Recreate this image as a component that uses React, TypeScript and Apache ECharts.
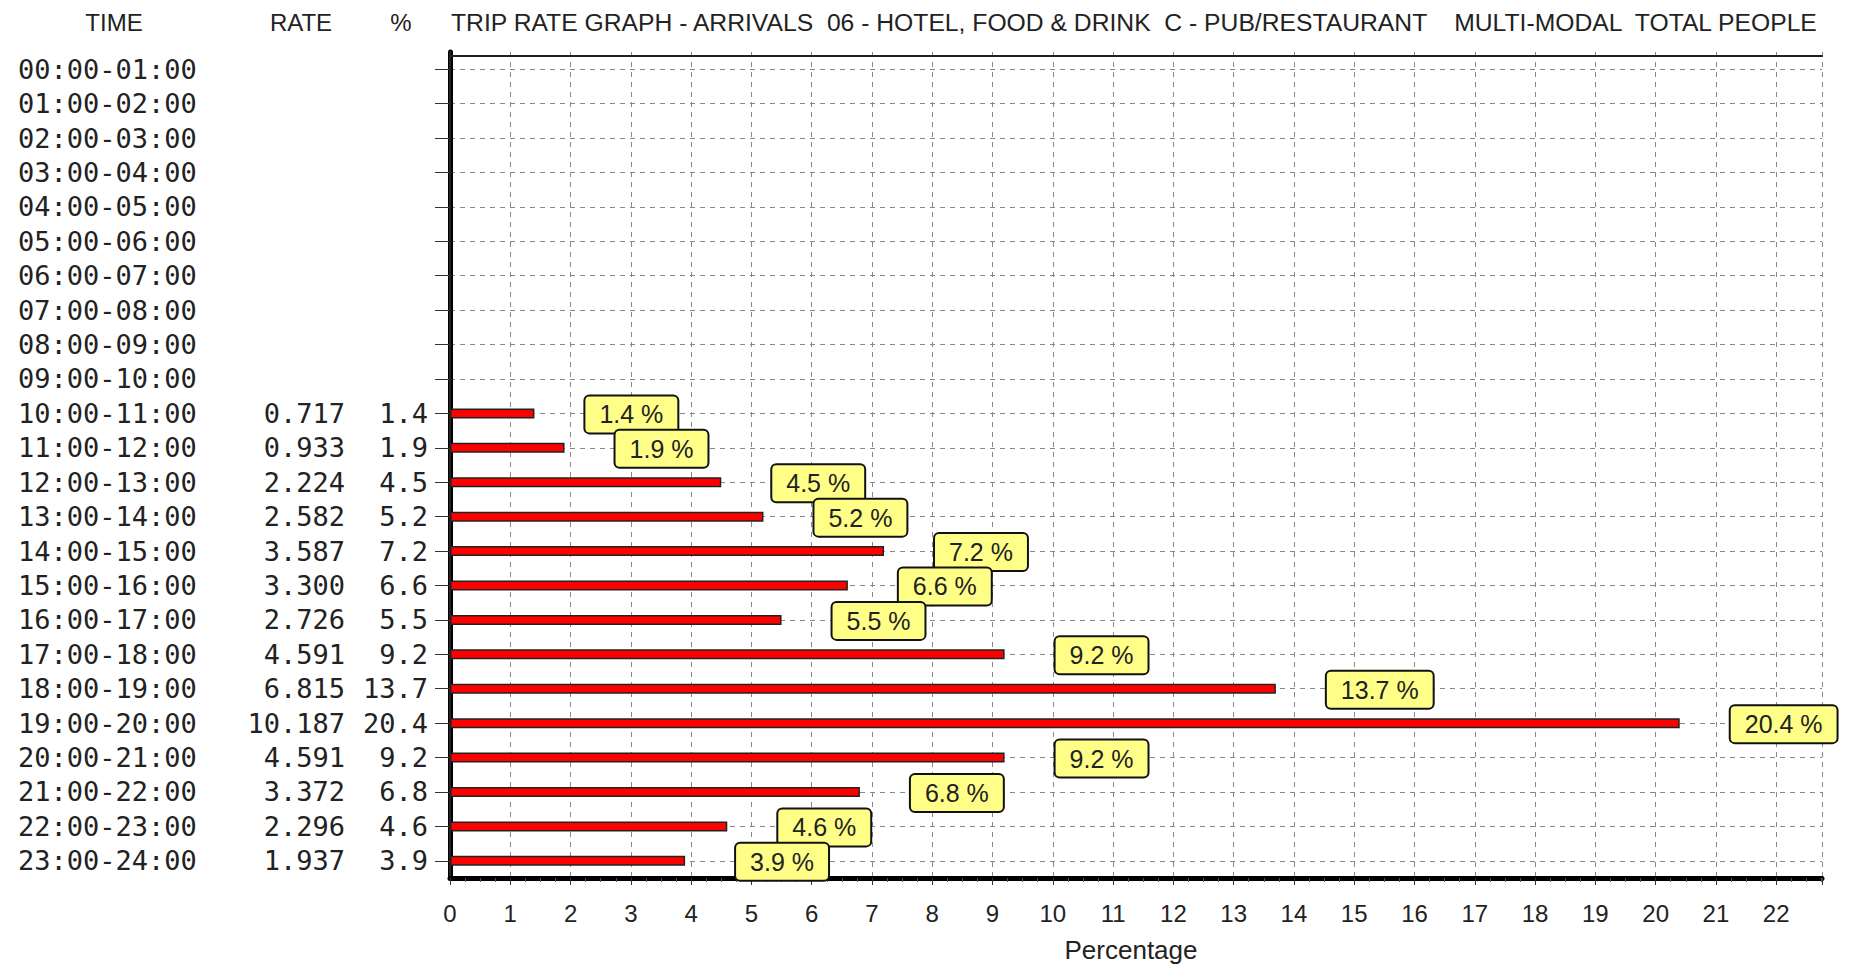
import React, { useEffect, useRef } from 'react';
import * as echarts from 'echarts';

const timeLabels = [
  '00:00-01:00', '01:00-02:00', '02:00-03:00', '03:00-04:00', '04:00-05:00', '05:00-06:00',
  '06:00-07:00', '07:00-08:00', '08:00-09:00', '09:00-10:00', '10:00-11:00', '11:00-12:00',
  '12:00-13:00', '13:00-14:00', '14:00-15:00', '15:00-16:00', '16:00-17:00', '17:00-18:00',
  '18:00-19:00', '19:00-20:00', '20:00-21:00', '21:00-22:00', '22:00-23:00', '23:00-24:00',
];
const rateValues: (string | null)[] = [
  null, null, null, null, null, null, null, null, null, null,
  '0.717', '0.933', '2.224', '2.582', '3.587', '3.300', '2.726', '4.591', '6.815', '10.187',
  '4.591', '3.372', '2.296', '1.937',
];
const percentValues: (number | null)[] = [
  null, null, null, null, null, null, null, null, null, null,
  1.4, 1.9, 4.5, 5.2, 7.2, 6.6, 5.5, 9.2, 13.7, 20.4, 9.2, 6.8, 4.6, 3.9,
];
const xMin = 0;
const xMax = 22.76;
const headerTexts = ['TIME', 'RATE', '%'];
const titleText = 'TRIP RATE GRAPH - ARRIVALS  06 - HOTEL, FOOD & DRINK  C - PUB/RESTAURANT    MULTI-MODAL  TOTAL PEOPLE';
const xAxisName = 'Percentage';

const SANS = '"Liberation Sans", Arial, sans-serif';
const MONO = '"DejaVu Sans Mono", "Liberation Mono", monospace';

export default function App() {
  const ref = useRef<HTMLDivElement>(null);
  useEffect(() => {
    if (!ref.current) return;
    const chart = echarts.init(ref.current, null, { renderer: 'svg' });
    const headerX = [114, 301, 401];
    chart.setOption({
      animation: false,
      backgroundColor: '#ffffff',
      grid: { left: 450, right: 44, top: 52, height: 836, show: false },
      graphic: [
        ...headerTexts.map((t, i) => ({
          type: 'text', x: headerX[i], y: 22,
          style: { text: t, fill: '#222', fontSize: 24, fontFamily: SANS, align: 'center', verticalAlign: 'middle' },
        })),
        {
          type: 'text', x: 451, y: 22,
          style: { text: titleText, fill: '#222', fontSize: 24.7, fontFamily: SANS, align: 'left', verticalAlign: 'middle' },
        },
      ],
      xAxis: [
        {
          type: 'value', min: xMin, max: xMax, interval: 1, position: 'bottom',
          name: xAxisName, nameLocation: 'middle', nameGap: 59,
          nameTextStyle: { fontSize: 26, fontFamily: SANS, color: '#222', padding: [0, 10, 0, 0] },
          axisLine: { show: true, lineStyle: { color: '#000', width: 5 } },
          axisTick: { show: true, length: 7, lineStyle: { color: '#333', width: 1 } },
          minorTick: { show: true, splitNumber: 4, length: 4, lineStyle: { color: '#555' } },
          axisLabel: { fontSize: 24, fontFamily: SANS, color: '#222', margin: 23, showMaxLabel: false },
          splitLine: { show: true, lineStyle: { color: '#888', type: [5, 5], width: 1 } },
        },
        {
          type: 'value', min: xMin, max: xMax, interval: 1, position: 'top', offset: -4,
          axisLine: { show: true, lineStyle: { color: '#222', width: 2 } },
          axisTick: { show: false }, axisLabel: { show: false }, splitLine: { show: false },
        },
      ],
      yAxis: [
        {
          type: 'category', data: timeLabels, inverse: true, position: 'left',
          axisLine: { show: true, lineStyle: { color: '#000', width: 5 } },
          axisTick: { show: true, alignWithLabel: true, length: 15, lineStyle: { color: '#333' } },
          splitLine: { show: true, alignWithLabel: true, lineStyle: { color: '#888', type: [5, 5], width: 1 } },
          axisLabel: {
            margin: 22,
            formatter: (value: string, idx: number) => {
              const r = rateValues[idx];
              const p = percentValues[idx];
              const rs = r === null ? ' ' : r;
              const ps = p === null ? ' ' : p.toFixed(1);
              return `{t|${value}}{r|${rs}}{p|${ps}}`;
            },
            rich: {
              t: { width: 205, align: 'left', fontFamily: MONO, fontSize: 27, color: '#222' },
              r: { width: 122, align: 'right', fontFamily: MONO, fontSize: 27, color: '#222' },
              p: { width: 83, align: 'right', fontFamily: MONO, fontSize: 27, color: '#222' },
            },
          },
        },
        {
          type: 'category', data: timeLabels, inverse: true, position: 'right',
          axisLine: { show: true, lineStyle: { color: '#222', width: 2 } },
          axisTick: { show: false }, axisLabel: { show: false }, splitLine: { show: false },
        },
      ],
      series: [
        {
          type: 'bar', xAxisIndex: 0, yAxisIndex: 0,
          data: percentValues.map((v) => (v === null ? '-' : v)),
          barWidth: 10,
          itemStyle: { color: '#ff0000', borderColor: '#222', borderWidth: 1.5 },
          label: {
            show: true, position: 'right', distance: 51, offset: [0, 1],
            formatter: (p: any) => `${Number(p.value).toFixed(1)} %`,
            fontSize: 25, fontFamily: SANS, color: '#222',
            backgroundColor: '#ffff88', borderColor: '#111', borderWidth: 2, borderRadius: 4,
            padding: [6, 14, 5, 14],
          },
        },
      ],
    });
    return () => chart.dispose();
  }, []);
  return <div ref={ref} style={{ position: 'absolute', left: 0, top: 0, width: 1866, height: 968 }} />;
}
